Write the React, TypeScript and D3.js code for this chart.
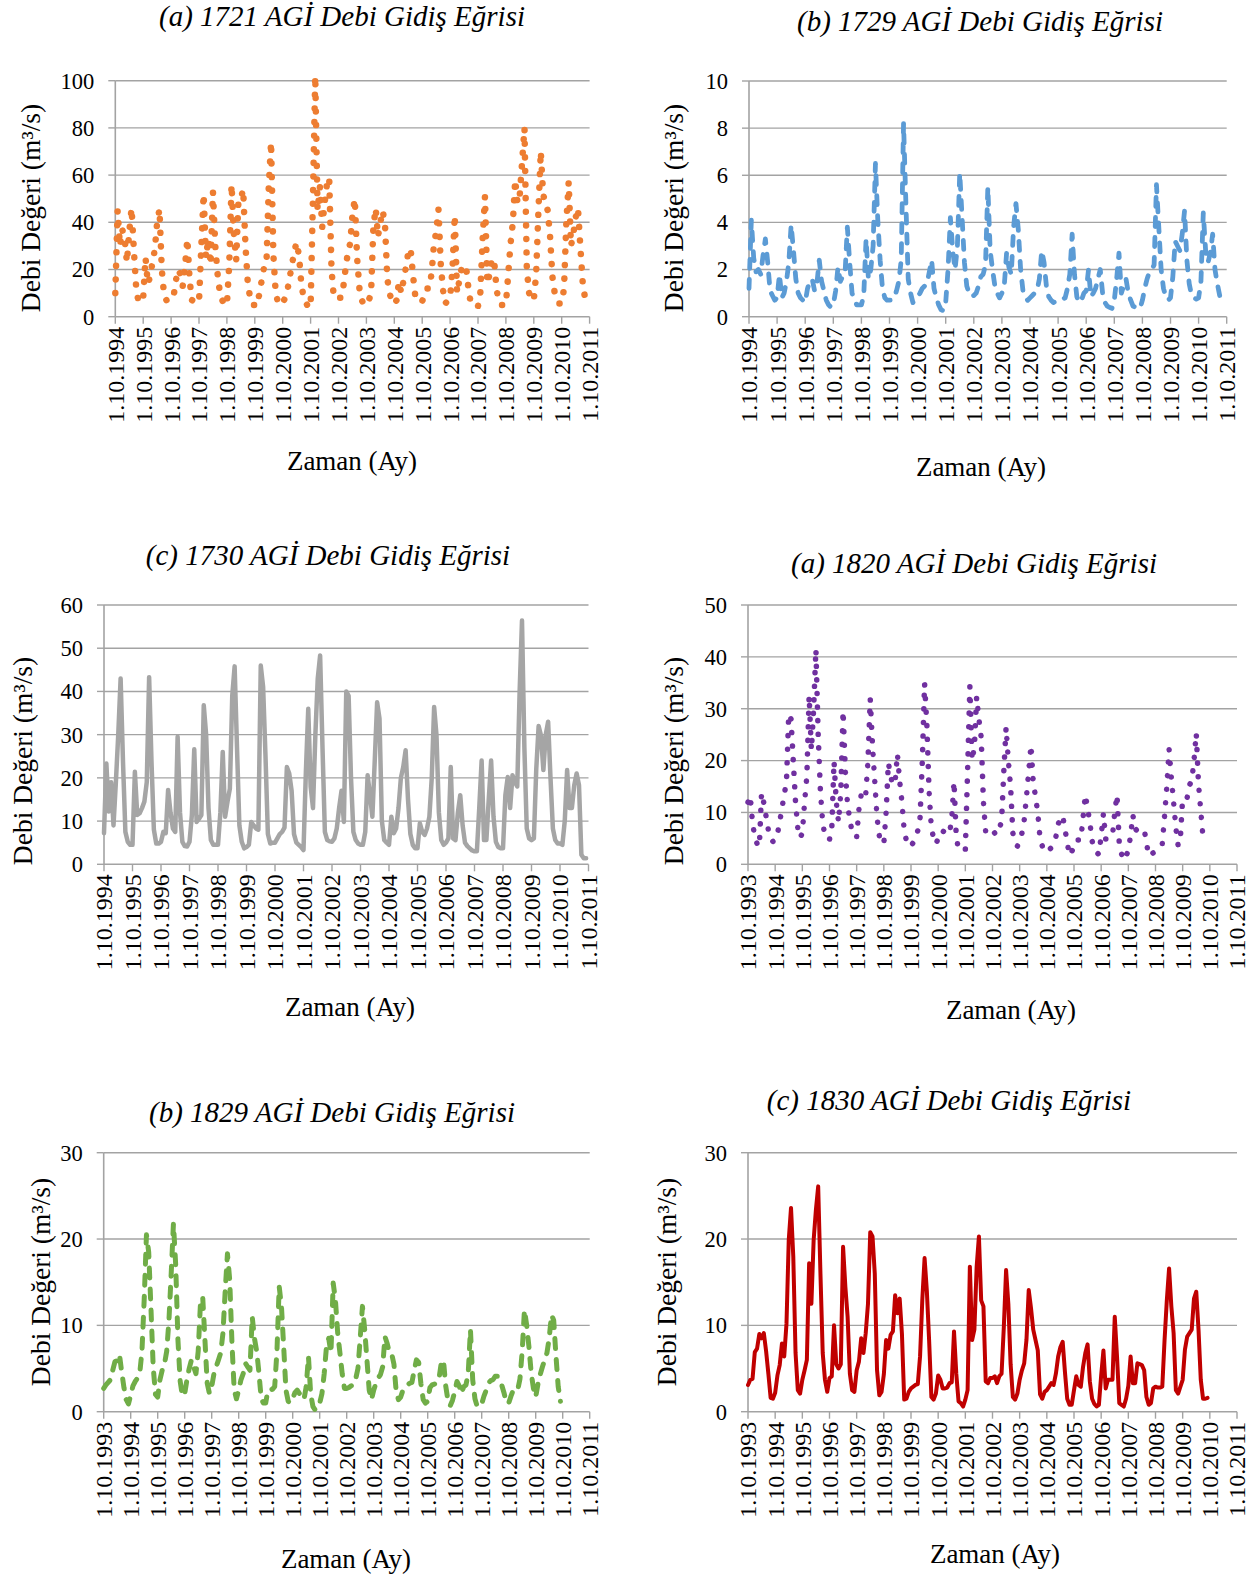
import React from 'react';
import * as d3 from 'd3';

// ---------- DATA (monthly values, water years starting October) ----------
const a1721 = [
  10, 45, 30, 37, 33, 23, 36, 46, 28, 12, 6, 7,
  8, 25, 14, 17, 23, 28.5, 40, 45.6, 20, 9, 7, 7,
  7, 8, 15, 20, 18, 13, 21.5, 33, 15, 7, 6.5, 6,
  6, 30, 52, 25, 33, 22, 53, 30, 18, 10, 7, 5,
  5, 22, 56, 35, 24, 50, 50, 54, 30, 14, 8, 5,
  5, 4.5, 10, 15.5, 21, 22, 55, 74, 26, 10, 6, 5,
  5.6, 8, 11, 16.7, 22, 27.8, 31.5, 26, 14, 8, 6, 4,
  4, 50, 102, 45, 55, 38, 48, 56, 59, 20, 8, 8,
  8, 8, 12, 20, 27, 31, 43, 50, 25, 12, 7, 5,
  5, 7, 9.5, 38, 46, 34, 40, 45, 39, 16, 10, 6,
  5.4, 7, 14.8, 10, 15.5, 21, 27, 29, 18, 9, 6.4, 6.5,
  6.6, 9, 12, 12, 18, 30, 36, 45.5, 22, 11, 5.6, 7,
  8, 20, 43, 10, 15.5, 21, 22, 20, 11, 5.2, 5, 4.5,
  4.5, 10, 33, 51, 14, 18, 24.7, 23, 11.6, 6, 5, 5,
  5, 18, 31, 40, 58, 48, 52, 66, 80, 20, 10, 7,
  7, 18, 45, 70, 52, 48, 45, 34, 17, 10, 7, 5.6,
  5.6, 12, 40, 57, 30, 35, 42, 46, 30, 15, 8, 6,
];

const b1729 = [
  1.2, 4.1, 2.5, 1.9, 2.0, 1.8, 2.6, 3.3, 2.3, 1.1, 0.9, 0.7,
  0.8, 1.8, 0.8, 1.0, 1.5, 2.3, 3.9, 2.8, 1.6, 1.0, 0.8, 0.7,
  0.6, 1.2, 1.5, 1.6, 1.1, 1.4, 2.4, 1.5, 1.1, 0.7, 0.5, 0.4,
  0.5, 1.1, 2.1, 1.5, 1.7, 1.8, 3.8, 2.3, 1.0, 0.7, 0.5, 0.5,
  0.5, 0.9, 3.3, 1.6, 2.0, 3.0, 6.5, 4.1, 2.4, 1.2, 0.8, 0.7,
  0.7, 0.7, 0.8, 1.1, 1.5, 2.4, 8.2, 4.8, 1.6, 1.0, 0.6, 0.7,
  0.85, 1.0, 1.2, 1.3, 1.4, 1.9, 2.4, 1.2, 0.8, 0.5, 0.3, 0.25,
  0.6, 2.0, 4.2, 2.8, 2.0, 3.0, 6.1, 4.2, 2.3, 1.3, 1.0, 0.85,
  0.9, 1.0, 1.3, 1.7, 1.8, 2.2, 5.5, 2.8, 2.0, 1.3, 1.0, 0.8,
  1.0, 1.3, 2.7, 2.1, 1.8, 3.8, 4.8, 3.7, 2.0, 1.1, 0.8, 0.7,
  0.8, 0.9, 1.0, 1.1, 1.6, 2.8, 2.3, 1.3, 0.85, 0.7, 0.6, 0.65,
  0.7, 0.7, 0.75, 0.8, 1.2, 1.8, 3.5, 1.8, 0.85, 0.6, 0.7, 1.0,
  1.1, 2.0, 0.85, 1.0, 1.2, 1.6, 2.0, 1.0, 0.6, 0.45, 0.4, 0.35,
  0.7, 1.6, 2.7, 1.0, 1.3, 1.6, 1.0, 0.7, 0.45, 0.4, 0.35, 0.35,
  0.7, 1.2, 1.6, 1.9, 2.0, 2.2, 5.6, 3.8, 2.0, 1.2, 0.85, 0.7,
  0.8, 1.7, 3.2, 3.0, 2.8, 3.5, 4.5, 2.4, 1.4, 0.9, 0.8, 0.75,
  0.8, 1.5, 4.4, 2.8, 2.3, 2.7, 3.5, 2.0, 1.4, 0.9,
];

const c1730 = [
  7.2, 23.3, 12.2, 19, 9, 19, 30, 43, 23.7, 7.5, 5.2, 4.5,
  4.5, 21.4, 11.4, 11.8, 13, 14.5, 19, 43.3, 23.7, 8, 4.8, 4.8,
  5.2, 7.5, 7.2, 17.2, 12, 8.3, 7.5, 29.5, 12, 5.2, 4.2, 4.1,
  5.2, 11.4, 26.6, 9.8, 10.5, 11.4, 36.8, 30, 13, 5.6, 4.5, 4.5,
  4.5, 12, 26, 11, 14.5, 17.5, 39, 45.8, 27, 9, 5.2, 3.7,
  4, 4.5, 9.8, 9, 8.3, 8, 46, 41, 25, 7, 4.8, 5,
  5, 6, 7, 7.5, 8.5, 22.5, 21, 17, 7, 5, 4.5, 4,
  3.3, 21.4, 36, 18, 13, 30, 43, 48.3, 27, 7.5, 5.6, 5.3,
  5.2, 6, 8.3, 13, 17, 9.8, 40, 39, 20, 7.5, 5.6, 4.8,
  4.5, 4.5, 7.5, 20.6, 16, 11, 24, 37.5, 33.7, 10, 5.6, 5,
  4.5, 11, 7.2, 8.3, 13, 20, 22.5, 26.4, 15, 7, 4.5, 3.7,
  3.7, 9.5, 7.5, 6.8, 8.3, 11, 20, 36.4, 29.8, 12, 5.6, 4.5,
  5, 6, 22.5, 6, 5.6, 12, 16, 9, 5, 4.2, 3.7, 3.2,
  3, 3, 13, 24, 5.6, 5.6, 15, 24, 11, 5.2, 4, 3.7,
  3.7, 16, 20.2, 13, 20.6, 19, 18, 40, 56.4, 27, 8.3, 6,
  5.6, 6, 22, 32, 29.8, 21.8, 30, 33, 20, 8.3, 5.6, 4.8,
  4.8, 4.5, 10, 21.8, 13, 13, 18.3, 21, 18.3, 2.2, 1.4, 1.4,
];

const d1820 = [
  12, 13.2, 8, 5.3, 4, 3.4, 13.8, 11.8, 9.2, 6.6, 5, 4.4,
  4.5, 5.8, 8.2, 10.8, 13.4, 16, 29, 28, 20, 12, 7, 5.1,
  6, 12, 17, 32.5, 22, 30, 41.5, 25, 14, 8, 5.5, 4.8,
  4.8, 6.7, 19.9, 12, 8.1, 14, 29.6, 18, 11.3, 8.7, 6.1, 5.3,
  5.3, 10.6, 13.4, 14.3, 13.4, 20, 31.9, 23, 16, 9, 5.5, 4,
  4, 10, 19.6, 17, 15.3, 16, 21.3, 16, 12, 6.5, 4.5, 3.5,
  3.5, 4.2, 5, 6.5, 9, 20, 34.9, 27, 14, 7, 5, 3.9,
  5, 6.4, 6.4, 6.2, 6, 5.8, 9, 16, 5.3, 2.8, 2.8, 2.8,
  2.8, 18, 34.3, 20, 22.7, 32.3, 28, 24.5, 12, 6.2, 6, 6.6,
  6.6, 6, 5.7, 7, 8.2, 18, 26.4, 20, 15, 6, 4.5, 3.5,
  4.5, 6, 8.5, 13, 18, 23, 16, 13, 10, 5, 3.5, 2.4,
  2.4, 2.8, 3.2, 4.2, 5.3, 7.8, 8.6, 9.4, 6.8, 4.2, 1.7, 2.5,
  3.2, 4.7, 4.7, 4.7, 9, 13.4, 10.8, 8.1, 4.5, 3, 2.3, 1.9,
  5.5, 9.8, 4.9, 4.9, 5.1, 5.5, 10, 13.4, 4, 2, 0.8, 1.5,
  2.8, 5.5, 9.5, 6.9, 6.4, 6.5, 6.6, 6.7, 4.2, 1.6, 1.9, 2.2,
  2.4, 2.8, 3.4, 4, 9.3, 15, 22.2, 16.7, 12, 7, 3.6, 5.1,
  12.9, 12.9, 12.9, 15.3, 16, 20, 25.3, 15.5, 10.3, 5.1,
];

const e1829 = [
  2.7, 3.1, 3.4, 3.7, 4.8, 5.8, 5.9, 6.6, 4.6, 2.8, 1.4, 0.9,
  1.9, 3.0, 3.5, 3.9, 4.4, 7, 13, 20.5, 18.5, 12, 5.2, 2,
  1.7, 3.7, 4.8, 5.5, 7, 10.6, 16, 21.8, 17, 8.3, 3.5, 1.8,
  2.1, 3.7, 5, 6, 5.2, 4.4, 7, 12.5, 13.3, 8.3, 3.3, 2.1,
  2.9, 4.4, 5.2, 6, 6.8, 9.1, 14, 18.3, 15.3, 8, 2.5, 1.5,
  2.5, 3.7, 4.4, 5.6, 5.2, 4.8, 11, 8.5, 7, 4.5, 1.5, 1,
  1, 2.5, 2.5, 2.6, 2.9, 7, 14.5, 12.2, 7.5, 2.5, 1.2, 1,
  1.5, 2.2, 2.5, 2.1, 1.8, 1.4, 2.9, 6.4, 2.0, 0.6, 0.2, 0.5,
  1, 2.1, 4.4, 7.5, 8.5, 6.8, 14.9, 12.9, 9.1, 6.8, 4.4, 2.7,
  2.7, 2.8, 3, 3.1, 3.8, 5, 8.5, 12.2, 9.5, 6, 2.5, 1.4,
  2.5, 3.3, 3.9, 4.3, 5.2, 8.7, 7.9, 6.8, 6.7, 5.5, 2.3, 1.4,
  1.7, 2.5, 2.7, 3.1, 3.3, 3.4, 4.8, 6, 5.7, 3.2, 1.4, 1,
  1.2, 2.8, 3.1, 3.2, 3.3, 3.8, 5.6, 6, 3, 1.3, 0.7, 1.3,
  2.3, 3.5, 3, 2.1, 2.9, 3.1, 4.4, 9.5, 3.7, 1.5, 0.6, 0.6,
  0.9, 1.8, 2.5, 3.3, 3.6, 3.7, 4.1, 4.1, 3.7, 3, 2.1, 1,
  1, 1.8, 2.5, 2.4, 2.5, 3.8, 7, 11.8, 10, 7.5, 4.5, 2.7,
  1.7, 3.2, 4.3, 5.2, 6, 6.8, 8.5, 11.2, 10.6, 6.5, 2.9, 1.2,
];

const f1830 = [
  3.1, 3.7, 3.8, 6.9, 7.3, 9, 8.5, 9.1, 7, 4.4, 1.6, 1.5,
  2.2, 4.2, 5.4, 7.9, 6.4, 10.2, 19.9, 23.6, 18, 6.8, 2.5, 2.1,
  3.7, 4.8, 6, 17.2, 12.5, 19.9, 23.4, 26.1, 16, 6.8, 3.7, 2.3,
  3.9, 4.1, 10, 5.5, 5, 5.5, 19.1, 14.5, 11, 4.4, 2.5, 2.3,
  4.8, 5.8, 8.5, 6.8, 9.1, 12.5, 20.8, 20.3, 16, 4.8, 1.9, 2.3,
  4.3, 8.3, 7.3, 8.9, 9.3, 13.5, 11.4, 13.1, 9, 1.4, 1.5, 2.3,
  2.7, 2.9, 3.1, 3.2, 6.4, 13, 17.8, 14, 8.3, 1.7, 1.4, 2.1,
  4.2, 3.7, 2.7, 2.7, 2.8, 3.3, 3.4, 9.3, 4.4, 1.2, 1, 0.6,
  1.4, 2.5, 16.8, 8.3, 9.5, 16.8, 20.3, 12.9, 12.2, 3.5, 3.3, 3.9,
  3.9, 4.1, 3.3, 4.1, 4.4, 9.8, 16.4, 12.5, 5.5, 1.7, 1.4, 2.1,
  3.7, 4.8, 5.6, 8.3, 14.1, 12, 9.5, 8.3, 7.1, 2, 1.5, 2.3,
  2.5, 2.9, 3.3, 3.1, 4.4, 6.4, 7.5, 8.1, 4.6, 1.5, 0.8, 0.8,
  2.5, 4.1, 3.1, 2.9, 5.2, 6.8, 7.8, 3.5, 1.5, 0.9, 0.6, 0.8,
  4.2, 7.1, 2.7, 3.7, 3.7, 3.7, 11, 6.4, 1, 0.8, 0.6, 1.5,
  3, 6.4, 3.3, 3.3, 5.6, 5.5, 5.4, 4.8, 1.7, 0.8, 1, 2.7,
  2.9, 2.8, 2.8, 2.9, 8.3, 12.9, 16.6, 12.2, 9.1, 2.5, 2.1, 2.9,
  3.7, 7.2, 8.7, 9.1, 9.5, 13.1, 13.9, 9.5, 3.7, 1.5, 1.5, 1.6,
];

const titles = [
  '(a) 1721 AGİ Debi Gidiş Eğrisi',
  '(b) 1729 AGİ Debi Gidiş Eğrisi',
  '(c) 1730 AGİ Debi Gidiş Eğrisi',
  '(a) 1820 AGİ Debi Gidiş Eğrisi',
  '(b) 1829 AGİ Debi Gidiş Eğrisi',
  '(c) 1830 AGİ Debi Gidiş Eğrisi',
];
const startYears = [1994, 1994, 1994, 1993, 1993, 1993];
const yMaxes = [100, 10, 60, 50, 30, 30];
const ySteps = [20, 2, 10, 10, 10, 10];
const series = [a1721, b1729, c1730, d1820, e1829, f1830];
const xAxisTitle = 'Zaman (Ay)';
const yAxisTitle = 'Debi Değeri (m³/s)';

// ---------- LAYOUT ----------
type Layout = {
  x0: number; x1: number; yTop: number; yBottom: number;
  titleX: number; titleY: number; xTitleX: number; xTitleY: number;
  yTitleX: number; yTitleY: number;
  color: string; width: number; dash: string;
};
const layouts: Layout[] = [
  { x0: 115.3, x1: 589.6, yTop: 80.7, yBottom: 316.7, titleX: 342, titleY: 26, xTitleX: 352, xTitleY: 470, yTitleX: 30, yTitleY: 208, color: '#ED7D31', width: 6.5, dash: '0.1 13.5' },
  { x0: 749, x1: 1226.7, yTop: 81, yBottom: 316.7, titleX: 980, titleY: 31, xTitleX: 981, xTitleY: 476, yTitleX: 673, yTitleY: 208, color: '#5B9BD5', width: 4.8, dash: '9 11' },
  { x0: 104, x1: 588.5, yTop: 605, yBottom: 864.3, titleX: 328, titleY: 565, xTitleX: 350, xTitleY: 1016, yTitleX: 22, yTitleY: 761, color: '#A5A5A5', width: 4.5, dash: '' },
  { x0: 748, x1: 1237, yTop: 605, yBottom: 864.3, titleX: 974, titleY: 573, xTitleX: 1011, xTitleY: 1019, yTitleX: 673, yTitleY: 761, color: '#7030A0', width: 5.5, dash: '0.1 13.5' },
  { x0: 103.7, x1: 589.7, yTop: 1152.7, yBottom: 1411.7, titleX: 332, titleY: 1122, xTitleX: 346, xTitleY: 1568, yTitleX: 40, yTitleY: 1282, color: '#70AD47', width: 5, dash: '10 11' },
  { x0: 748, x1: 1237, yTop: 1152.7, yBottom: 1411.7, titleX: 949, titleY: 1110, xTitleX: 995, xTitleY: 1563, yTitleX: 666, yTitleY: 1282, color: '#C00000', width: 4, dash: '' },
];

const FONT = '"Liberation Serif", "Times New Roman", serif';
const GRID = '#a3a3a3';

function Panel({ idx }: { idx: number }) {
  const L = layouts[idx];
  const data = series[idx];
  const start = startYears[idx];
  const years = 2011 - start;
  const x = d3.scaleLinear().domain([0, years * 12]).range([L.x0, L.x1]);
  const y = d3.scaleLinear().domain([0, yMaxes[idx]]).range([L.yBottom, L.yTop]);
  const yTicks = d3.range(0, yMaxes[idx] + ySteps[idx] / 2, ySteps[idx]);
  const xTicks = d3.range(0, years + 1);
  const line = d3.line<number>().x((_, i) => x(i)).y((d) => y(d));
  const path = line(data) || '';

  return (
    <g>
      {yTicks.map((t) => (
        <g key={'y' + t}>
          {t > 0 && <line x1={L.x0} x2={L.x1} y1={y(t)} y2={y(t)} stroke={GRID} strokeWidth={1.4} />}
          <line x1={L.x0 - 7} x2={L.x0} y1={y(t)} y2={y(t)} stroke={GRID} strokeWidth={1.4} />
          <text x={L.x0 - 21} y={y(t)} dy="0.35em" textAnchor="end" fontSize={22.5} fontFamily={FONT} fill="#000">{t}</text>
        </g>
      ))}
      <line x1={L.x0} x2={L.x0} y1={L.yTop} y2={L.yBottom} stroke={GRID} strokeWidth={1.6} />
      <line x1={L.x0} x2={L.x1} y1={L.yBottom} y2={L.yBottom} stroke={GRID} strokeWidth={1.6} />
      {xTicks.map((k) => (
        <g key={'x' + k}>
          <line x1={x(k * 12)} x2={x(k * 12)} y1={L.yBottom} y2={L.yBottom + 7} stroke={GRID} strokeWidth={1.4} />
          <text
            transform={`translate(${x(k * 12)},${L.yBottom + 10}) rotate(-90)`}
            dy="0.35em"
            textAnchor="end"
            fontSize={24}
            fontFamily={FONT}
            fill="#000"
          >{`1.10.${start + k}`}</text>
        </g>
      ))}
      <path
        d={path}
        fill="none"
        stroke={L.color}
        strokeWidth={L.width}
        strokeLinecap="round"
        strokeLinejoin="round"
        strokeDasharray={L.dash || undefined}
      />
      <text x={L.titleX} y={L.titleY} textAnchor="middle" fontSize={29} fontStyle="italic" fontFamily={FONT} fill="#000">{titles[idx]}</text>
      <text x={L.xTitleX} y={L.xTitleY} textAnchor="middle" fontSize={27} fontFamily={FONT} fill="#000">{xAxisTitle}</text>
      <text
        transform={`translate(${L.yTitleX},${L.yTitleY}) rotate(-90)`}
        dy="0.35em"
        textAnchor="middle"
        fontSize={27.5}
        fontFamily={FONT}
        fill="#000"
      >{yAxisTitle}</text>
    </g>
  );
}

export default function App() {
  return (
    <svg
      width={1254}
      height={1580}
      viewBox="0 0 1254 1580"
      style={{ position: 'absolute', left: 0, top: 0, background: '#fff' }}
    >
      <rect x={0} y={0} width={1254} height={1580} fill="#fff" />
      {layouts.map((_, i) => (
        <Panel key={i} idx={i} />
      ))}
    </svg>
  );
}
